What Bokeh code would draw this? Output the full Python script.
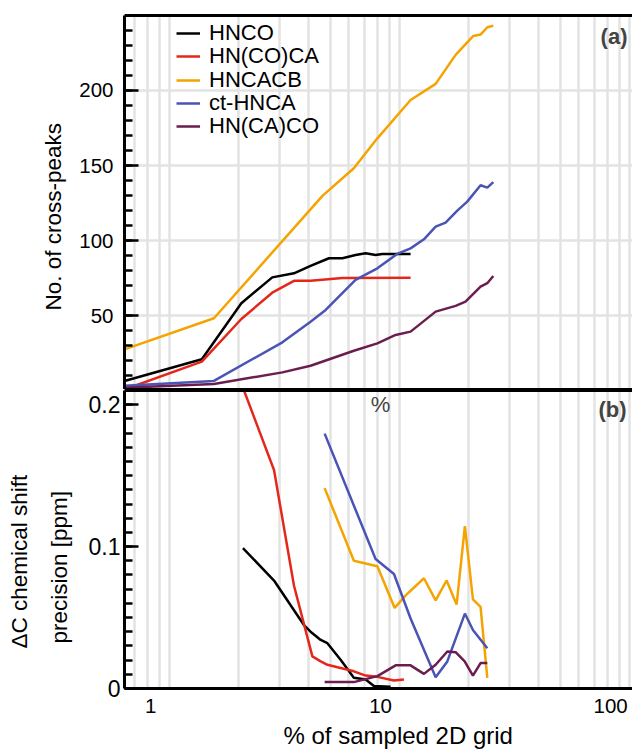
import math
from bokeh.plotting import figure
from bokeh.layouts import column
from bokeh.models import (FixedTicker, LinearAxis, Label, Legend, LegendItem,
                          PrintfTickFormatter, Range1d, Title)
from bokeh.embed import file_html
from bokeh.resources import INLINE

FONT = "Liberation Sans"

SERIES = ["HNCO", "HN(CO)CA", "HNCACB", "ct-HNCA", "HN(CA)CO"]
COLORS = ["#000000", "#e3281b", "#f5a300", "#4a54b4", "#6b1d4f"]

# ---- panel (a): number of cross-peaks ----
A_HNCO_X = [0.77, 1.67, 2.48, 3.38, 4.20, 4.96, 5.96, 6.82, 7.78, 8.61, 9.51, 10.17, 13.5]
A_HNCO_Y = [6.7, 21.1, 58.4, 75.6, 78.3, 83.3, 88.3, 88.3, 90.5, 91.6, 90.5, 91.2, 91.2]

A_HNCOCA_X = [0.77, 1.67, 2.48, 3.38, 4.20, 4.96, 6.82, 13.5]
A_HNCOCA_Y = [1.0, 19.5, 47.9, 65.4, 73.3, 73.3, 75.2, 75.3]

A_HNCACB_X = [0.77, 1.885, 5.6, 7.65, 9.68, 13.5, 17.35, 21.19, 25.3, 27.2, 29.1, 30.9]
A_HNCACB_Y = [27.7, 48.4, 130.0, 148.2, 168.1, 193.6, 204.3, 223.6, 236.2, 237.1, 242.0, 243.0]

A_CTHNCA_X = [0.77, 1.885, 3.74, 4.96, 5.77, 7.78, 9.68, 11.8, 13.5, 15.43, 17.35, 19.17,
              21.55, 23.8, 27.2, 29.1, 30.9]
A_CTHNCA_Y = [3.5, 6.7, 32.4, 46.1, 53.9, 73.9, 81.6, 91.2, 94.9, 100.9, 109.3, 112.0,
              120.0, 126.0, 136.9, 135.3, 139.0]

A_HNCACO_X = [0.77, 1.885, 3.74, 4.96, 7.65, 9.68, 11.62, 13.5, 17.35, 21.19, 23.4, 27.2, 29.1, 30.9]
A_HNCACO_Y = [2.2, 4.7, 12.4, 16.8, 26.8, 31.7, 37.3, 39.5, 52.8, 56.6, 59.4, 69.4, 71.7, 76.5]

# ---- panel (b): chemical shift precision [ppm] ----
B_HNCO_X = [2.52, 3.44, 4.64, 4.96, 5.49, 5.87, 6.70, 7.65, 8.61, 9.35, 11.05]
B_HNCO_Y = [0.0989, 0.0761, 0.0447, 0.040, 0.0342, 0.0319, 0.0202, 0.0075, 0.0063, 0.0017, 0.0012]

B_HNCOCA_X = [2.48, 3.44, 4.20, 5.05, 5.49, 5.87, 7.65, 8.61, 9.68, 11.43, 12.63]
B_HNCOCA_Y = [0.215, 0.154, 0.0726, 0.0226, 0.0191, 0.0167, 0.0121, 0.0091, 0.0082, 0.0056, 0.0063]

B_HNCACB_X = [5.71, 7.65, 9.68, 11.51, 12.85, 15.43, 17.35, 19.36, 21.4, 23.25, 25.2, 27.2, 29.1]
B_HNCACB_Y = [0.1412, 0.090, 0.0861, 0.0568, 0.0656, 0.0777, 0.0621, 0.0761, 0.0591, 0.1144,
              0.0628, 0.0575, 0.0075]

B_CTHNCA_X = [5.71, 9.51, 11.43, 13.5, 17.35, 19.5, 23.25, 25.2, 29.1]
B_CTHNCA_Y = [0.1796, 0.0912, 0.0807, 0.0493, 0.008, 0.0191, 0.0528, 0.0412, 0.0284]

B_HNCACO_X = [5.71, 7.65, 9.68, 11.62, 13.5, 15.43, 17.35, 19.5, 21.19, 23.2, 25.2, 27.2, 29.1]
B_HNCACO_Y = [0.0045, 0.0045, 0.0087, 0.0163, 0.0163, 0.0103, 0.0167, 0.0261, 0.0256, 0.0191,
              0.0091, 0.0179, 0.0179]

A_SERIES = [(A_HNCO_X, A_HNCO_Y), (A_HNCOCA_X, A_HNCOCA_Y), (A_HNCACB_X, A_HNCACB_Y),
            (A_CTHNCA_X, A_CTHNCA_Y), (A_HNCACO_X, A_HNCACO_Y)]
B_SERIES = [(B_HNCO_X, B_HNCO_Y), (B_HNCOCA_X, B_HNCOCA_Y), (B_HNCACB_X, B_HNCACB_Y),
            (B_CTHNCA_X, B_CTHNCA_Y), (B_HNCACO_X, B_HNCACO_Y)]

# ticks
X_TICKS = [1, 10, 100]
A_Y_TICKS = [50, 100, 150, 200]
A_Y_MINOR = [10 * i for i in range(1, 25)]
B_Y_TICKS = [0, 0.1, 0.2]
B_Y_MINOR = [round(0.01 * i, 2) for i in range(0, 21)]

# vertical grid lines (log minor positions, drawn slightly shifted as in the original)
GRID_SHIFT = 1.21
GRID_X = [m * 10 ** e * GRID_SHIFT for e in (-1, 0, 1) for m in range(1, 10)] + [100 * GRID_SHIFT]

X_RANGE = Range1d(0.77, 124.5)
GRID_COLOR = "#e3e3e3"
LW = 2.5

# legend layout (screen px inside panel a): left edge, bottom of first row, row pitch
LEG_X = 52
LEG_Y0 = 343
LEG_PITCH = 23.25


def style_common(p):
    p.outline_line_color = None
    p.background_fill_color = "white"
    p.border_fill_color = "white"
    p.xgrid.ticker = FixedTicker(ticks=GRID_X)
    p.xgrid.grid_line_color = GRID_COLOR
    p.xgrid.grid_line_width = 2.5
    ya = p.yaxis[0]
    ya.axis_line_width = 3
    ya.major_tick_in = 14
    ya.major_tick_out = 0
    ya.minor_tick_in = 8
    ya.minor_tick_out = 0
    ya.major_tick_line_width = 2.5
    ya.minor_tick_line_width = 2.5
    ya.major_label_text_font = FONT
    ya.major_label_text_color = "black"


def border_axis():
    return LinearAxis(ticker=FixedTicker(ticks=[]), axis_line_width=3,
                      major_tick_out=0, major_tick_in=0, minor_tick_out=0, minor_tick_in=0,
                      major_label_standoff=0, major_label_text_font_size="0px")


def title(text, offset, standoff, size):
    return Title(text=text, align="left", offset=offset, standoff=standoff,
                 text_font=FONT, text_font_size=size, text_font_style="normal",
                 text_color="black")


# ---------------- panel (a) ----------------
pa = figure(width=632, height=389, x_axis_type="log", x_range=X_RANGE,
            y_range=Range1d(1, 249.8), output_backend="svg", toolbar_location=None,
            min_border_left=124, min_border_right=0, min_border_top=15, min_border_bottom=0)
style_common(pa)
pa.ygrid.grid_line_color = GRID_COLOR
pa.ygrid.grid_line_width = 2.5
pa.yaxis.ticker = FixedTicker(ticks=A_Y_TICKS, minor_ticks=A_Y_MINOR)
pa.yaxis.major_label_text_font_size = "20.5px"
pa.yaxis.major_label_standoff = 11
xa = pa.xaxis[0]
xa.ticker = FixedTicker(ticks=[])
xa.axis_line_width = 3
xa.major_tick_out = 0
xa.major_tick_in = 0
xa.minor_tick_out = 0
xa.minor_tick_in = 0
xa.major_label_standoff = 0
xa.major_label_text_font_size = "0px"
pa.add_layout(border_axis(), "above")
pa.add_layout(title("No. of cross-peaks", 79, 22, "22.5px"), "left")

for i, (name, color, (xs, ys)) in enumerate(zip(SERIES, COLORS, A_SERIES)):
    r = pa.line(xs, ys, line_color=color, line_width=LW)
    leg = Legend(items=[LegendItem(label=name, renderers=[r])],
                 location=(LEG_X, LEG_Y0 - i * LEG_PITCH), padding=0, spacing=0, margin=0,
                 glyph_width=24, label_standoff=9, background_fill_alpha=0,
                 border_line_color=None, label_text_font=FONT, label_text_font_size="22px",
                 label_text_color="black")
    pa.add_layout(leg)

pa.add_layout(Label(x=503, y=353, x_units="screen", y_units="screen", text="(a)",
                    text_align="right", text_baseline="middle", text_font=FONT,
                    text_font_size="22px", text_font_style="bold"))

# ---------------- panel (b) ----------------
pb = figure(width=632, height=363, x_axis_type="log", x_range=X_RANGE,
            y_range=Range1d(0, 0.21), output_backend="svg", toolbar_location=None,
            min_border_left=124, min_border_right=0, min_border_top=1, min_border_bottom=61)
style_common(pb)
pb.ygrid.visible = False
pb.yaxis.ticker = FixedTicker(ticks=B_Y_TICKS, minor_ticks=B_Y_MINOR)
pb.yaxis.formatter = PrintfTickFormatter(format="%g")
pb.yaxis.major_label_text_font_size = "23px"
pb.yaxis.major_label_standoff = 4
xb = pb.xaxis[0]
xb.ticker = FixedTicker(ticks=X_TICKS)
xb.formatter = PrintfTickFormatter(format="%d")
xb.axis_line_width = 3
xb.major_tick_out = 0
xb.major_tick_in = 0
xb.minor_tick_out = 0
xb.minor_tick_in = 0
xb.major_label_standoff = 10
xb.major_label_text_font = FONT
xb.major_label_text_font_size = "20.5px"
xb.major_label_text_color = "black"
pb.add_layout(border_axis(), "above")
pb.add_layout(title("precision [ppm]", 45, 27, "22.5px"), "left")
pb.add_layout(title("\u0394C chemical shift", 40, 0, "22.5px"), "left")
pb.add_layout(title("% of sampled 2D grid", 159, 8, "24px"), "below")

for color, (xs, ys) in zip(COLORS, B_SERIES):
    pb.line(xs, ys, line_color=color, line_width=LW)

pb.add_layout(Label(x=10, y=0.2, text="%", text_align="center", text_baseline="middle",
                    text_font=FONT, text_font_size="22px"))
pb.add_layout(Label(x=502, y=279.5, x_units="screen", y_units="screen", text="(b)",
                    text_align="right", text_baseline="middle", text_font=FONT,
                    text_font_size="22px", text_font_style="bold"))

layout = column(pa, pb, spacing=0)
open("out.html", "w").write(file_html(layout, INLINE))
